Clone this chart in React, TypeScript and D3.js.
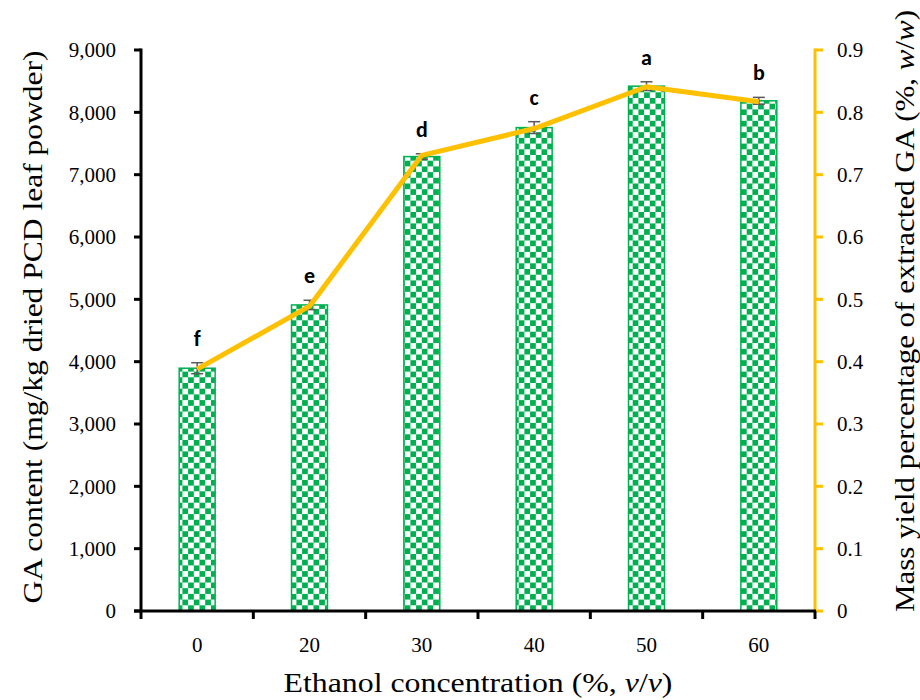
import React from "react";
import * as d3 from "d3";

const categories = ["0", "20", "30", "40", "50", "60"];
const gaContent = [3895, 4910, 7290, 7755, 8420, 8185];
const gaError = [88, 75, 45, 95, 70, 55];
const massYield = [0.388, 0.489, 0.731, 0.774, 0.841, 0.817];
const letters = ["f", "e", "d", "c", "a", "b"];
const leftTicks = [0, 1000, 2000, 3000, 4000, 5000, 6000, 7000, 8000, 9000];
const rightTicks = [0, 0.1, 0.2, 0.3, 0.4, 0.5, 0.6, 0.7, 0.8, 0.9];

const W = 920;
const H = 700;
const L = 141;
const R = 815;
const T = 50;
const B = 611;
const SERIF = "'Palatino Linotype', 'Book Antiqua', Palatino, 'Liberation Serif', serif";
const GOLD = "#FFC000";
const GREEN = "#00B050";
const SQ = 5.7;

export default function App() {
  const x = d3.scaleBand<string>().domain(categories).range([L, R]).padding(0);
  const yL = d3.scaleLinear().domain([0, 9000]).range([B, T]);
  const yR = d3.scaleLinear().domain([0, 0.9]).range([B, T]);
  const bw = x.bandwidth() * 0.32;
  const cx = (c: string) => (x(c) as number) + x.bandwidth() / 2;
  const fmt = d3.format(",");
  const line = d3
    .line<number>()
    .x((_, i) => cx(categories[i]))
    .y((d) => yR(d));
  const boundaries = [...categories.map((c) => x(c) as number), R];

  return (
    <svg width={W} height={H} style={{ position: "absolute", left: 0, top: 0, background: "#fff" }}>
      <defs>
        <pattern id="checker" patternUnits="userSpaceOnUse" width={SQ * 2} height={SQ * 2} x={0} y={B}>
          <rect width={SQ * 2} height={SQ * 2} fill="#fff" />
          <rect width={SQ} height={SQ} fill={GREEN} />
          <rect x={SQ} y={SQ} width={SQ} height={SQ} fill={GREEN} />
        </pattern>
      </defs>
      {/* bars */}
      {categories.map((c, i) => (
        <rect
          key={"b" + c}
          x={cx(c) - bw / 2}
          y={yL(gaContent[i])}
          width={bw}
          height={B - yL(gaContent[i])}
          fill="url(#checker)"
          stroke={GREEN}
          strokeWidth={1.5}
        />
      ))}
      {/* error bars */}
      {categories.map((c, i) => {
        const top = yL(gaContent[i] + gaError[i]);
        const bot = yL(gaContent[i] - gaError[i]);
        const xc = cx(c);
        return (
          <g key={"e" + c} stroke="#595959" strokeWidth={1.5}>
            <line x1={xc} x2={xc} y1={top} y2={bot} />
            <line x1={xc - 6} x2={xc + 6} y1={top} y2={top} />
            <line x1={xc - 6} x2={xc + 6} y1={bot} y2={bot} />
          </g>
        );
      })}
      {/* line */}
      <path d={line(massYield) as string} fill="none" stroke={GOLD} strokeWidth={5} strokeLinejoin="round" />
      {/* letters */}
      {categories.map((c, i) => (
        <text
          key={"l" + c}
          x={cx(c)}
          y={yL(gaContent[i] + gaError[i]) - 17}
          textAnchor="middle"
          fontFamily="Carlito, Calibri, 'Liberation Sans', 'Open Sans', sans-serif"
          fontWeight="bold"
          fontSize={22}
          fill="#000"
        >
          {letters[i]}
        </text>
      ))}
      {/* left axis */}
      <line x1={L} x2={L} y1={T - 1.5} y2={B} stroke="#000" strokeWidth={3} />
      {leftTicks.map((t) => (
        <g key={"lt" + t}>
          <line x1={L - 7} x2={L} y1={yL(t)} y2={yL(t)} stroke="#000" strokeWidth={3} />
          <text x={116} y={yL(t)} dy="0.35em" textAnchor="end" fontFamily={SERIF} fontSize={21} fill="#000">
            {fmt(t)}
          </text>
        </g>
      ))}
      {/* right axis */}
      <line x1={R} x2={R} y1={T - 1.5} y2={B} stroke={GOLD} strokeWidth={3} />
      {rightTicks.map((t) => (
        <g key={"rt" + t}>
          <line x1={R} x2={R + 8} y1={yR(t)} y2={yR(t)} stroke={GOLD} strokeWidth={3} />
          <text x={837} y={yR(t)} dy="0.35em" textAnchor="start" fontFamily={SERIF} fontSize={21} fill="#000">
            {t === 0 ? "0" : d3.format(".1f")(t)}
          </text>
        </g>
      ))}
      {/* bottom axis */}
      <line x1={L - 7} x2={R + 1} y1={B} y2={B} stroke="#000" strokeWidth={3} />
      {boundaries.map((b, i) => (
        <line key={"xt" + i} x1={b} x2={b} y1={B} y2={B + 8} stroke="#000" strokeWidth={3} />
      ))}
      {categories.map((c) => (
        <text key={"xl" + c} x={cx(c)} y={652} textAnchor="middle" fontFamily={SERIF} fontSize={21} fill="#000">
          {c}
        </text>
      ))}
      {/* titles */}
      <text
        x={478}
        y={692}
        textAnchor="middle"
        fontFamily={SERIF}
        fontSize={27}
        fill="#000"
        textLength={389}
        lengthAdjust="spacingAndGlyphs"
      >
        Ethanol concentration (%, <tspan fontStyle="italic">v</tspan>/<tspan fontStyle="italic">v</tspan>)
      </text>
      <text
        transform={`translate(42, 327) rotate(-90)`}
        textAnchor="middle"
        fontFamily={SERIF}
        fontSize={27}
        fill="#000"
        textLength={553}
        lengthAdjust="spacingAndGlyphs"
      >
        GA content (mg/kg dried PCD leaf powder)
      </text>
      <text
        transform={`translate(914, 311) rotate(-90)`}
        textAnchor="middle"
        fontFamily={SERIF}
        fontSize={27}
        fill="#000"
        textLength={602}
        lengthAdjust="spacingAndGlyphs"
      >
        Mass yield percentage of extracted GA (%, <tspan fontStyle="italic">w</tspan>/<tspan fontStyle="italic">w</tspan>)
      </text>
    </svg>
  );
}
